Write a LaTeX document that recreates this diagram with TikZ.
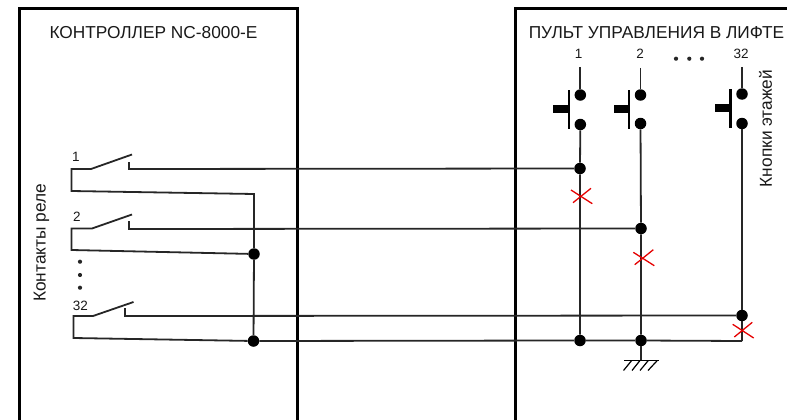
\documentclass[tikz,border=0pt]{standalone}
\usepackage{fontspec}
\setmainfont{Liberation Sans}
\tikzset{
  frameline/.style={line width=3pt,black},
  wire/.style={line width=1.8pt,black!85,line join=miter},
  jdot/.style={circle,fill=black,inner sep=0pt,minimum size=11.5pt},
  smalldot/.style={circle,fill=black!85,inner sep=0pt,minimum size=4.2pt},
  btnbar/.style={line width=2.4pt,black},
  btnstub/.style={fill=black,draw=none,inner sep=0pt,minimum width=15.5pt,minimum height=8pt},
  redx/.style={line width=1.3pt,red!90!black},
  title/.style={font=\fontsize{17.3}{20}\selectfont,inner sep=0pt,text=black!90},
  small/.style={font=\fontsize{13.5}{16}\selectfont,inner sep=0pt,text=black!90},
  side/.style={font=\fontsize{17.3}{20}\selectfont,inner sep=0pt,rotate=90,text=black!90},
  hatchline/.style={line width=1.2pt,black}
}
\begin{document}
\begin{tikzpicture}[x=1pt,y=-1pt]
\useasboundingbox (0,0) rectangle (787,420);
% frames
\coordinate (lbl) at (19,420); \coordinate (ltl) at (19,9); \coordinate (ltr) at (297,9); \coordinate (lbr) at (297,420);
\coordinate (rbl) at (515,420); \coordinate (rtl) at (515,9); \coordinate (rtr) at (788,9);
\draw[frameline] (lbl) -- (ltl) -- (ltr) -- (lbr);
\draw[frameline] (rbl) -- (rtl) -- (rtr);
% texts
\node[title] (tl) at (153.5,32.5) {КОНТРОЛЛЕР NC-8000-E};
\node[title] (tr) at (656.5,32.5) {ПУЛЬТ УПРАВЛЕНИЯ В ЛИФТЕ};
\node[side] (sl) at (41.5,243) {Контакты реле};
\node[side] (sr) at (765.5,128.5) {Кнопки этажей};
\node[small] (r1) at (76,157) {1};
\node[small] (r2) at (77,217) {2};
\node[small] (r32) at (80.5,305.5) {32};
\node[small] (b1) at (578.5,54) {1};
\node[small] (b2) at (640,54) {2};
\node[small] (b32) at (741,54) {32};
% dots
\node[smalldot] (v1) at (80,261.7) {};
\node[smalldot] (v2) at (80,275) {};
\node[smalldot] (v3) at (80,287.7) {};
\node[smalldot] (h1) at (676,58.7) {};
\node[smalldot] (h2) at (689.3,58.7) {};
\node[smalldot] (h3) at (702,58.7) {};
% junctions
\node[jdot] (ja) at (254,254) {};
\node[jdot] (jb) at (253.5,341) {};
\node[jdot] (j1) at (580,168.5) {};
\node[jdot] (j2) at (641,228.5) {};
\node[jdot] (j32) at (742,315.5) {};
\node[jdot] (g1) at (580,340.5) {};
\node[jdot] (g2) at (641,340.5) {};
% buttons
\node[jdot] (p1a) at (580.3,95) {};
\node[jdot] (p1b) at (580.3,124.5) {};
\node[jdot] (p2a) at (640.5,95) {};
\node[jdot] (p2b) at (640.5,123.5) {};
\node[jdot] (p3a) at (742,94) {};
\node[jdot] (p3b) at (742,123.5) {};
\coordinate (t1) at (580.3,67); \coordinate (t2) at (640.5,68); \coordinate (t3) at (742,67);
\draw[wire] (t1) -- (p1a); \draw[wire] (t2) -- (p2a); \draw[wire] (t3) -- (p3a);
\draw[btnbar] (569,90.3) -- (569,128.7);
\draw[btnbar] (629,90.3) -- (629,129);
\draw[btnbar] (730.3,89.3) -- (730.3,128);
\node[btnstub] (s1) at (561,109.3) {};
\node[btnstub] (s2) at (621.5,109.3) {};
\node[btnstub] (s3) at (722.8,108.3) {};
% verticals
\coordinate (c32) at (742,341);
\draw[wire] (p1b) -- (j1) -- (g1);
\draw[wire] (p2b) -- (j2) -- (g2);
\draw[wire] (p3b) -- (j32) -- (c32);
% relay 1
\coordinate (a1) at (71.5,191); \coordinate (a2) at (71.5,169); \coordinate (a3) at (91,169); \coordinate (a4) at (132,154.5);
\coordinate (a5) at (129,162); \coordinate (a6) at (129,169); \coordinate (a7) at (254,194);
\draw[wire] (a4) -- (a3) -- (a2) -- (a1) -- (a7) -- (ja);
\draw[wire] (a5) -- (a6) -- (j1);
% relay 2
\coordinate (e1) at (71.5,250); \coordinate (e2) at (71.5,228.5); \coordinate (e3) at (92,228.5); \coordinate (e4) at (132,214.5);
\coordinate (e5) at (129,221); \coordinate (e6) at (129,229);
\draw[wire] (e4) -- (e3) -- (e2) -- (e1) -- (ja);
\draw[wire] (e5) -- (e6) -- (j2);
% relay 32
\coordinate (k1) at (73.5,338); \coordinate (k2) at (73.5,316); \coordinate (k3) at (93,316); \coordinate (k4) at (133.5,302);
\coordinate (k5) at (125,308); \coordinate (k6) at (125,316);
\draw[wire] (k4) -- (k3) -- (k2) -- (k1) -- (jb);
\draw[wire] (k5) -- (k6) -- (j32);
\draw[wire] (ja) -- (jb);
\draw[wire] (jb) -- (g1) -- (g2) -- (c32);
% ground
\coordinate (gnd) at (641,360.5);
\coordinate (gl) at (624,360.5); \coordinate (gr) at (659,360.5);
\draw[wire] (g2) -- (gnd);
\draw[hatchline] (gl) -- (gr);
\draw[hatchline] (631.7,360.5) -- (623.5,370.5);
\draw[hatchline] (640,360.5) -- (632,370.5);
\draw[hatchline] (648.3,360.5) -- (640,370.5);
\draw[hatchline] (657.3,360.5) -- (648,370.5);
% red crosses
\draw[redx] (571,190) -- (592.3,203.7);
\draw[redx] (573,202.7) -- (591,188.3);
\draw[redx] (633.3,252.3) -- (654.3,265.7);
\draw[redx] (634.7,264.7) -- (653.3,249.7);
\draw[redx] (732.7,324.3) -- (753.7,338);
\draw[redx] (734.3,337) -- (752.3,322.3);
\end{tikzpicture}
\end{document}
